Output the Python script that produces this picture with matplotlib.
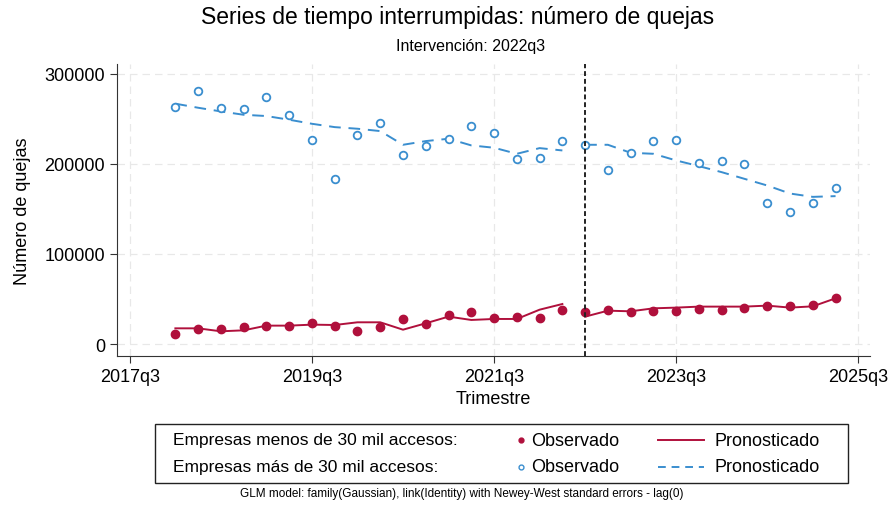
import matplotlib
matplotlib.use("Agg")
import matplotlib.pyplot as plt
from matplotlib.lines import Line2D
from matplotlib.patches import Rectangle
import numpy as np

plt.rcParams['font.family'] = ['Liberation Sans Narrow', 'Liberation Sans', 'DejaVu Sans']

# quarters 2018q1 .. 2025q2
quarters = [f"{y}q{q}" for y in range(2018, 2026) for q in range(1, 5)][:30]
intervention = "2022q3"
tick_labels = ["2017q3", "2019q3", "2021q3", "2023q3", "2025q3"]

# Empresas más de 30 mil accesos
obs_big = [263000, 280300, 261400, 261100, 274100, 253700, 226700, 183300, 231800, 244800,
           209300, 219600, 227400, 241900, 233700, 205600, 206700, 225600, 220400, 192600,
           212200, 225600, 225900, 200400, 203000, 200000, 157000, 146300, 156300, 172600]
pred_big = [266700, 262200, 258100, 254400, 253000, 248900, 244400, 240700, 238900, 236300,
            221100, 225200, 227800, 220400, 217800, 211100, 217400, 214800, 221100, 221100,
            212200, 211100, 203700, 197400, 190700, 183300, 175900, 167000, 163300, 164100]

# Empresas menos de 30 mil accesos
obs_small = [11100, 16300, 16300, 18500, 20400, 20400, 23300, 19600, 14800, 19300,
             27400, 22200, 31800, 35600, 29300, 29600, 28500, 38100, 35200, 38100,
             35200, 37000, 37000, 38900, 38100, 40400, 42200, 41800, 43000, 50700]
pred_small = [17400, 17400, 14100, 15200, 20400, 20400, 21500, 21100, 24100, 24100,
              15900, 23000, 30400, 26700, 27800, 27800, 38100, 44400, 30400, 37000,
              36300, 39600, 40400, 41500, 41500, 41500, 42600, 40400, 41800, 50700]


def qnum(s):
    y, q = s.split("q")
    return (int(y) - 2017) * 4 + int(q) - 3


x = np.array([qnum(s) for s in quarters])
xi = qnum(intervention)
pre = x < xi
post = x >= xi

red = "#b0103c"
blue = "#3a8ecf"

fig = plt.figure(figsize=(8.92, 5.10), dpi=100)
ax = fig.add_axes([0.131, 0.30, 0.844, 0.573])

for m in (pre, post):
    ax.plot(x[m], np.array(pred_small)[m], color=red, lw=1.4, zorder=3)
    ax.plot(x[m], np.array(pred_big)[m], color=blue, lw=1.4, ls=(0, (6, 4)), zorder=3)
ax.plot(x, obs_small, 'o', color=red, ms=6, zorder=4)
ax.plot(x, obs_big, 'o', mfc='white', mec=blue, ms=5.5, mew=1.3, zorder=4)

ax.axvline(xi, color='#222222', lw=1.4, ls=(0, (2.5, 1.5)), zorder=5)

ax.set_xlim(-0.57, 32.5)
ax.set_ylim(-13300, 311000)
ax.set_xticks([qnum(t) for t in tick_labels])
ax.set_xticklabels(tick_labels)
ax.set_yticks([0, 100000, 200000, 300000])
ax.set_yticklabels(["0", "100000", "200000", "300000"])
ax.tick_params(labelsize=13, length=5, color='#333333')
ax.grid(True, color='#e8e8e8', ls=(0, (6, 4)), lw=0.9)
ax.set_axisbelow(True)
for s in ("top", "right"):
    ax.spines[s].set_visible(False)
ax.spines["left"].set_color('#333333')
ax.spines["bottom"].set_color('#333333')
ax.set_xlabel("Trimestre", fontsize=13, labelpad=4)
ax.set_ylabel("Número de quejas", fontsize=13, labelpad=10)

fig.text(0.513, 0.965, "Series de tiempo interrumpidas: número de quejas", fontsize=16.5,
         ha='center', va='center')
fig.text(0.528, 0.908, "Intervención: 2022q3", fontsize=11.5, ha='center', va='center')

# legend drawn by hand (Stata style)
fig.patches.append(Rectangle((155 / 892, 1 - 484 / 510), 693 / 892, 59 / 510,
                             transform=fig.transFigure, fill=False, ec='#222222', lw=1.0))
rows = [("Empresas menos de 30 mil accesos:", 441, dict(color=red, ms=3.5), dict(color=red, ls='-')),
        ("Empresas más de 30 mil accesos:", 468, dict(mfc='white', mec=blue, ms=3.5, mew=1.0),
         dict(color=blue, ls=(0, (4, 3))))]
for lab, py, mk, ln in rows:
    yy = 1 - py / 510
    fig.text(173 / 892, yy, lab, fontsize=12.5, va='center', ha='left')
    fig.lines.append(Line2D([521 / 892], [yy], marker='o', transform=fig.transFigure, ls='none', **mk))
    fig.text(531 / 892, yy, "Observado", fontsize=13, va='center', ha='left')
    fig.lines.append(Line2D([658 / 892, 704 / 892], [yy, yy], transform=fig.transFigure, lw=1.4, **ln))
    fig.text(714 / 892, yy, "Pronosticado", fontsize=13, va='center', ha='left')

fig.text(462 / 892, 1 - 494 / 510,
         "GLM model: family(Gaussian), link(Identity) with Newey-West standard errors - lag(0)",
         fontsize=8.5, ha='center', va='center')

fig.savefig("out.png", dpi=100, facecolor='white')
